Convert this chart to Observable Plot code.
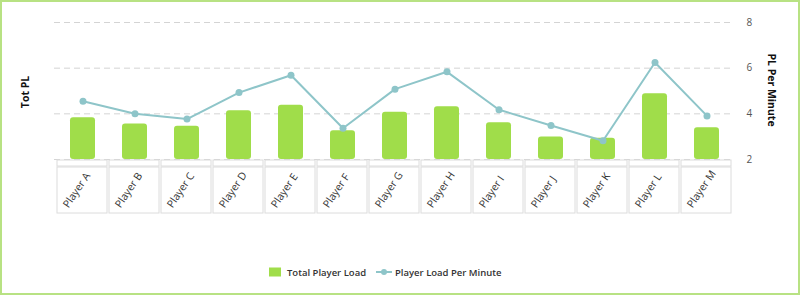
<!DOCTYPE html>
<html>
<head>
<meta charset="utf-8">
<script src="https://cdn.jsdelivr.net/npm/d3@7"></script>
<script src="https://cdn.jsdelivr.net/npm/@observablehq/plot@0.6"></script>
<style>
  html, body { margin: 0; padding: 0; background: #fff; }
  #wrap { position: relative; width: 800px; height: 295px; overflow: hidden; font-family: "Open Sans", "Noto Sans", sans-serif; }
  #border { position: absolute; left: 0; top: 0; width: 800px; height: 295px; box-sizing: border-box; border: 2px solid #b8e283; pointer-events: none; }
  .abs { position: absolute; }
  .ytitle { font-weight: 700; font-size: 10.5px; color: #111; white-space: nowrap; }
  #legend { position: absolute; top: 265px; left: 0; width: 800px; font-size: 9.5px; font-weight: 600; color: #333; }
  #legend .item { position: absolute; top: 0; display: flex; align-items: center; white-space: nowrap; height: 14px; }
</style>
</head>
<body>
<div id="wrap">
  <div id="main" class="abs" style="left:0;top:0"></div>
  <div id="labels" class="abs" style="left:0;top:159px"></div>
  <div class="abs ytitle" style="left:25px;top:92px;transform:translate(-50%,-50%) rotate(-90deg)">Tot PL</div>
  <div class="abs ytitle" style="left:772px;top:90px;transform:translate(-50%,-50%) rotate(90deg)">PL Per Minute</div>
  <div id="legend">
    <div class="item" style="left:269px">
      <svg width="13" height="10" style="margin-right:5px"><rect x="0" y="0.5" width="12" height="9" fill="#a0dd4a"></rect></svg>
      <span>Total Player Load</span>
    </div>
    <div class="item" style="left:376px">
      <svg width="17" height="10" style="margin-right:2px"><line x1="0" y1="5" x2="16" y2="5" stroke="#8ec5c9" stroke-width="2"></line><circle cx="8" cy="5" r="3" fill="#8ec5c9"></circle></svg>
      <span>Player Load Per Minute</span>
    </div>
  </div>
  <div id="border"></div>
</div>
<script>
const players = ["Player A","Player B","Player C","Player D","Player E","Player F","Player G","Player H","Player I","Player J","Player K","Player L","Player M"];
const totalPlayerLoad = [3.83, 3.56, 3.46, 4.13, 4.38, 3.26, 4.07, 4.31, 3.61, 2.98, 2.93, 4.88, 3.39];
const plPerMinute = [4.55, 4.00, 3.77, 4.93, 5.69, 3.37, 5.08, 5.84, 4.18, 3.49, 2.82, 6.25, 3.91];
const yTicks = [2, 4, 6, 8];

const data = players.map((p, i) => ({player: p, total: totalPlayerLoad[i], perMin: plPerMinute[i]}));
const yMin = yTicks[0], yMax = yTicks[yTicks.length - 1];

const barColor = "#a0dd4a";
const lineColor = "#8ec5c9";

const main = Plot.plot({
  width: 800,
  height: 165,
  marginTop: 22,
  marginBottom: 6,
  marginLeft: 54,
  marginRight: 66,
  style: {fontFamily: "'Open Sans', 'Noto Sans', sans-serif", fontSize: "10px", background: "transparent"},
  x: {type: "band", domain: players, paddingInner: 0.52, paddingOuter: 0.26, axis: null},
  y: {domain: [yMin, yMax], axis: null},
  marks: [
    Plot.gridY(yTicks, {stroke: "#d4d4d4", strokeOpacity: 1, strokeDasharray: "6,4"}),
    Plot.axisY(yTicks, {anchor: "right", tickSize: 0, tickPadding: 12, label: null, fill: "#555", fontSize: 10}),
    Plot.barY(data, {x: "player", y1: () => yMin, y2: "total", fill: barColor, rx: 3}),
    Plot.line(data, {x: "player", y: "perMin", stroke: lineColor, strokeWidth: 2}),
    Plot.dot(data, {x: "player", y: "perMin", fill: lineColor, r: 3.5})
  ]
});
document.getElementById("main").appendChild(main);

const H = 58;
const labels = Plot.plot({
  width: 800,
  height: H,
  marginTop: 0,
  marginBottom: 0,
  marginLeft: 54,
  marginRight: 66,
  style: {fontFamily: "'Open Sans', 'Noto Sans', sans-serif", fontSize: "10px", background: "transparent", overflow: "visible"},
  x: {type: "band", domain: players, padding: 0, axis: null},
  marks: [
    Plot.cell(players, {x: d => d, fill: "white", stroke: "#dcdcdc", insetLeft: 1, insetRight: 1, insetTop: 1, insetBottom: H - 7}),
    Plot.cell(players, {x: d => d, fill: "white", stroke: "#dcdcdc", insetLeft: 1, insetRight: 1, insetTop: 8, insetBottom: 4}),
    Plot.text(players, {x: d => d, text: d => d, frameAnchor: "bottom", dy: -9, dx: -14, rotate: -56, textAnchor: "start", fill: "#333", fontSize: 10.5})
  ]
});
document.getElementById("labels").appendChild(labels);
</script>
</body>
</html>
